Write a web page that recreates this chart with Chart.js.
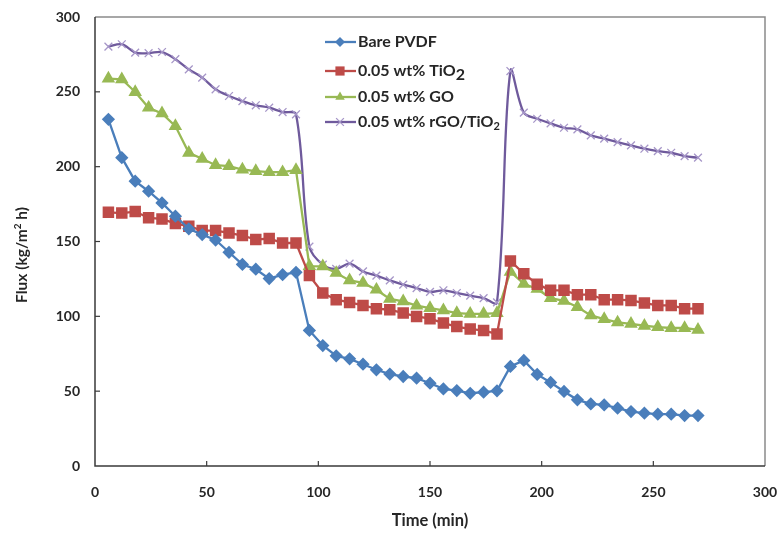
<!DOCTYPE html>
<html>
<head>
<meta charset="utf-8">
<script src="https://cdn.jsdelivr.net/npm/chart.js@4/dist/chart.umd.min.js"></script>
<style>
  html, body { margin: 0; padding: 0; background: #fff; }
  #wrap { width: 781px; height: 534px; }
</style>
</head>
<body>
<div id="wrap"><canvas id="fluxChart" width="781" height="534"></canvas></div>
<script>
// time points (min)
const times = [6, 12, 18, 24, 30, 36, 42, 48, 54, 60, 66, 72, 78, 84, 90,
  96, 102, 108, 114, 120, 126, 132, 138, 144, 150, 156, 162, 168, 174, 180,
  186, 192, 198, 204, 210, 216, 222, 228, 234, 240, 246, 252, 258, 264, 270];

// flux values (kg/m2 h)
const barePVDF = [231.6, 206, 190.3, 183.6, 175.8, 166.9, 158.5, 154.6, 151, 142.8, 134.7, 131.5, 125.2, 127.8, 129.4,
  90.6, 80.5, 73.6, 71.6, 68, 64.3, 61.4, 59.8, 58.7, 55.3, 51.5, 50.4, 48.6, 49.3, 50.2,
  66.5, 70.5, 61.2, 55.8, 49.8, 44.2, 41.5, 40.8, 38.6, 36.4, 35.3, 34.6, 34.6, 33.7, 33.7];
const tio2 = [169.5, 169, 170, 165.8, 165.1, 162, 160.2, 157.3, 157.3, 155.7, 154, 151.3, 152, 149, 149,
  127.2, 115.6, 111.1, 109.3, 107.3, 105.1, 104.4, 102.2, 99.9, 98.4, 95.5, 93.2, 91.5, 90.6, 88.2,
  137, 128.5, 121.5, 117.4, 117.4, 114.5, 114.5, 111.1, 111.1, 110.6, 108.9, 107.3, 107.3, 105.1, 105.1];
const go = [258.8, 258.4, 249.9, 239.4, 235.6, 227.1, 209.3, 205.3, 201, 200.4, 198.1, 197, 196.3, 196.3, 197.7,
  133.6, 133.4, 129, 124, 122.3, 117.8, 111.6, 110, 107.1, 105.5, 104, 102.2, 101.7, 101.7, 102.2,
  129.8, 121.7, 118.3, 112.2, 110.4, 106.2, 100.6, 98.2, 95.9, 95, 93.7, 92.8, 92.2, 92.2, 91];
const rgoTio2 = [280.2, 281.8, 276.2, 275.8, 276.6, 271.8, 265, 259.5, 251.7, 247.2, 243.8, 241, 239.4, 236.5, 235,
  146.6, 134.5, 131.7, 135.2, 130, 127.2, 124, 121.2, 118.9, 116.3, 117.4, 115.6, 113.8, 112.2, 109.3,
  263.9, 236.1, 232, 228.9, 226, 224.9, 220.9, 218.7, 216.4, 214.2, 212, 210.4, 209.3, 207, 206];

const seriesNames = ["Bare PVDF", "0.05 wt% TiO", "0.05 wt% GO", "0.05 wt% rGO/TiO"];
const axisTicks = [0, 50, 100, 150, 200, 250, 300];

const FONT = "Lato, 'Open Sans', sans-serif";
const TEXT = "#262626";

const toXY = (vals) => vals.map((v, i) => ({ x: times[i], y: v }));

const datasets = [
  { label: seriesNames[0], data: toXY(barePVDF), borderColor: "#4a7ebb", backgroundColor: "#4a7ebb",
    pointStyle: "rectRot", pointRadius: 5, borderWidth: 2.3, tension: 0 },
  { label: seriesNames[1], data: toXY(tio2), borderColor: "#be4b48", backgroundColor: "#be4b48",
    pointStyle: "rect", pointRadius: 6.5, borderWidth: 2.3, tension: 0 },
  { label: seriesNames[2], data: toXY(go), borderColor: "#98b954", backgroundColor: "#98b954",
    pointStyle: "triangle", pointRadius: 5.5, borderWidth: 2.3, tension: 0 },
  { label: seriesNames[3], data: toXY(rgoTio2), borderColor: "#6f5a9c", backgroundColor: "#a696c8",
    pointBorderColor: "#a696c8", pointStyle: "crossRot", pointRadius: 5.5, pointBorderWidth: 1.3,
    borderWidth: 2.3, tension: 0.35 }
];

// draws frame, inward tick marks, y title and the legend
const decorations = {
  id: "decorations",
  afterDraw(chart) {
    const ctx = chart.ctx;
    const a = chart.chartArea;
    const xs = chart.scales.x, ys = chart.scales.y;
    ctx.save();
    // top and right frame
    ctx.strokeStyle = "#8a8a8a";
    ctx.lineWidth = 1.5;
    ctx.beginPath();
    ctx.moveTo(a.left, a.top);
    ctx.lineTo(a.right, a.top);
    ctx.lineTo(a.right, a.bottom);
    ctx.stroke();
    // left / bottom axis
    ctx.strokeStyle = "#3a3a3a";
    ctx.beginPath();
    ctx.moveTo(a.left, a.top);
    ctx.lineTo(a.left, a.bottom);
    ctx.lineTo(a.right, a.bottom);
    ctx.stroke();
    // inward ticks
    ctx.lineWidth = 1.2;
    axisTicks.forEach(v => {
      if (v > 0 && v < 300) {
        const px = xs.getPixelForValue(v);
        ctx.beginPath(); ctx.moveTo(px, a.bottom); ctx.lineTo(px, a.bottom - 5); ctx.stroke();
        const py = ys.getPixelForValue(v);
        ctx.beginPath(); ctx.moveTo(a.left, py); ctx.lineTo(a.left + 5, py); ctx.stroke();
      }
    });

    // y axis title
    ctx.fillStyle = TEXT;
    ctx.translate(22, 255);
    ctx.rotate(-Math.PI / 2);
    ctx.textBaseline = "middle";
    const big = "bold 15.5px " + FONT, small = "bold 10px " + FONT;
    const t1 = "Flux (kg/m", t2 = " h)";
    ctx.font = big;
    const w1 = ctx.measureText(t1).width, w2 = ctx.measureText(t2).width;
    ctx.font = small;
    const wsup = ctx.measureText("2").width;
    const sx = -(w1 + wsup + w2) / 2;
    ctx.textAlign = "left";
    ctx.font = big;
    ctx.fillText(t1, sx, 0);
    ctx.fillText(t2, sx + w1 + wsup, 0);
    ctx.font = small;
    ctx.fillText("2", sx + w1, -4);
    ctx.restore();

    // legend
    ctx.save();
    const rows = [42, 71, 97, 122];
    chart.data.datasets.forEach((ds, i) => {
      const y = rows[i];
      ctx.strokeStyle = ds.borderColor;
      ctx.lineWidth = 2.3;
      ctx.beginPath(); ctx.moveTo(325, y); ctx.lineTo(356, y); ctx.stroke();
      drawMarker(ctx, ds, 340, y);
      ctx.fillStyle = TEXT;
      ctx.textAlign = "left";
      ctx.textBaseline = "middle";
      ctx.font = "bold 16px " + FONT;
      ctx.fillText(ds.label, 358, y);
      if (i === 1 || i === 3) {
        const w = ctx.measureText(ds.label).width;
        ctx.font = "bold " + (i === 1 ? 16 : 11) + "px " + FONT;
        ctx.fillText("2", 358 + w, y + 4);
      }
    });
    ctx.restore();
  }
};

function drawMarker(ctx, ds, x, y) {
  const r = ds.pointRadius;
  ctx.save();
  ctx.fillStyle = ds.backgroundColor;
  ctx.strokeStyle = ds.pointBorderColor || ds.borderColor;
  ctx.lineWidth = ds.pointBorderWidth || 1;
  ctx.beginPath();
  if (ds.pointStyle === "rectRot") {
    ctx.moveTo(x, y - r); ctx.lineTo(x + r, y); ctx.lineTo(x, y + r); ctx.lineTo(x - r, y); ctx.closePath(); ctx.fill();
  } else if (ds.pointStyle === "rect") {
    const s = r * Math.SQRT1_2;
    ctx.rect(x - s, y - s, 2 * s, 2 * s); ctx.fill();
  } else if (ds.pointStyle === "triangle") {
    ctx.moveTo(x, y - r); ctx.lineTo(x + r * 0.866, y + r / 2); ctx.lineTo(x - r * 0.866, y + r / 2); ctx.closePath(); ctx.fill();
  } else {
    const s = r * Math.SQRT1_2;
    ctx.moveTo(x - s, y - s); ctx.lineTo(x + s, y + s);
    ctx.moveTo(x + s, y - s); ctx.lineTo(x - s, y + s); ctx.stroke();
  }
  ctx.restore();
}

new Chart(document.getElementById("fluxChart"), {
  type: "line",
  data: { datasets: datasets },
  options: {
    responsive: false,
    animation: false,
    layout: { padding: { left: 0, right: 16, top: 17, bottom: 0 } },
    plugins: { legend: { display: false }, tooltip: { enabled: false } },
    scales: {
      x: {
        type: "linear", min: 0, max: 300,
        afterFit: (s) => { s.height = 68; s.paddingLeft = 0; s.paddingRight = 0; },
        border: { display: false },
        grid: { display: false, drawTicks: false },
        ticks: { stepSize: 50, padding: 18, maxRotation: 0, color: TEXT, font: { family: FONT, size: 14, weight: "bold" } },
        title: { display: true, text: "Time (min)", color: TEXT, padding: 3,
          font: { family: FONT, size: 16.5, weight: "bold" } }
      },
      y: {
        min: 0, max: 300,
        afterFit: (s) => { s.width = 95; s.paddingTop = 0; s.paddingBottom = 0; },
        border: { display: false },
        grid: { display: false, drawTicks: false },
        ticks: { stepSize: 50, padding: 15, color: TEXT, font: { family: FONT, size: 14, weight: "bold" } }
      }
    }
  },
  plugins: [decorations]
});
</script>
</body>
</html>
